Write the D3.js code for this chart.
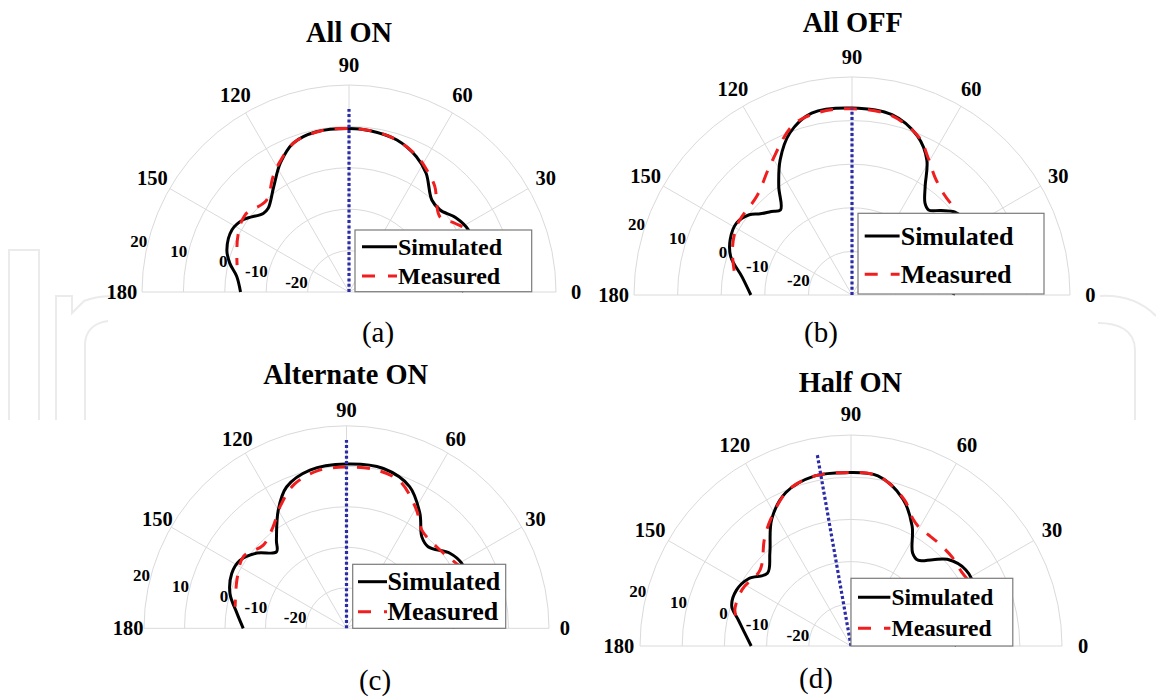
<!DOCTYPE html>
<html><head><meta charset="utf-8">
<script src="https://cdn.jsdelivr.net/npm/d3@7"></script>
<style>
body{margin:0;background:#fff} svg{display:block}
svg text{font-family:"Liberation Serif","Times New Roman",Tinos,"DejaVu Serif","Noto Serif",serif;}
</style>
</head><body><svg id="chart" width="1156" height="700"></svg>
<script>
// ---------------- data ----------------
const ringValues = [-20, -10, 0, 10, 20];
const angleTicks = [0, 30, 60, 90, 120, 150, 180];
const seriesNames = ["Simulated", "Measured"];
const titles = ["All ON", "All OFF", "Alternate ON", "Half ON"];
const tags = ["(a)", "(b)", "(c)", "(d)"];

const simAnglesA = [0, 8, 14, 20, 27.5, 35, 42, 48, 57, 63.5, 72.5, 82.5, 90, 101.5, 110.5, 118, 125.5, 134, 137.5, 145.5, 152, 161, 166.5, 172, 180];
const simA       = [-2.8, -1.3, 0.5, 1.8, 2.5, 1.4, -0.4, -0.1, 4.2, 6.5, 8.5, 9.3, 9.5, 9.5, 8.4, 5.3, 1.3, -1.9, -1.9, 0.9, 2.0, 1.2, -0.4, -2.6, -3.8];
const measAnglesA = [20, 27, 33, 39.5, 51, 57, 63, 72, 80, 90, 100, 110, 118, 123.5, 132, 143.5, 153, 162.5, 166.5];
const measA       = [1.5, 2.3, 0.5, -1.5, 2.9, 4.8, 6.6, 8.4, 9.2, 9.5, 9.5, 8.5, 5.6, 3.3, -0.2, 1.25, 0.1, -1.6, -2.2];

const simAnglesB = [0, 10, 18, 25, 32, 39, 43.5, 48, 51.5, 56, 61, 67.5, 77.5, 90, 102.5, 111, 118, 124, 130, 134, 138.5, 142, 148, 155.5, 162.5, 170.5, 180];
const simB       = [-6.8, -4.4, -0.9, 0.7, 1.2, 0.25, -1.85, -3.75, -3.1, 0, 5.4, 9.35, 12.35, 12.9, 12.75, 9.8, 5.1, 0.05, -4.5, -3.35, -1.9, -0.1, 1.2, 0.7, -0.85, -4.4, -6.8];
const measAnglesB = [43, 48, 55, 61, 67, 78, 90, 100, 109, 121.5, 134, 144.5, 149.5, 159.5, 169.5];
const measB       = [0.9, 1.35, 3.1, 6.0, 9.3, 12.2, 12.7, 12.6, 11.3, 5.5, 1.45, 1.0, 0.8, -0.7, -2.6];

const simAnglesC = [0, 8, 15, 22, 29.5, 36, 45, 50.5, 57.5, 66, 77, 90, 103, 113, 120, 128.5, 132.5, 140, 147.5, 154.5, 163.5, 172, 180];
const simC       = [-3.8, -1.8, 0.5, 2.2, 2.65, 1.55, -1.5, -0.75, 3.7, 8.3, 10.5, 10.55, 10.1, 7.9, 3.7, -2.2, -4.4, -1.1, 1.2, 1.4, 0.0, -2.65, -4.5];
const measAnglesC = [27, 34, 42, 52.5, 59.5, 70, 80, 90, 100, 110, 118, 126, 135, 145, 156, 169];
const measC       = [2.3, 0.85, 0.0, 0.55, 4.0, 8.6, 9.8, 9.8, 9.6, 7.8, 4.5, 0.9, -0.95, 1.0, -0.4, -2.0];

const simAnglesD = [0, 5, 15, 25, 33.5, 42, 46.5, 52, 56.5, 63, 70.5, 81, 92, 102, 113, 122, 131, 139, 146.5, 154, 161.5, 167, 180];
const simD       = [-5.5, -4, 0, 2.3, 2.65, 0.7, -1.8, -4.2, -3.55, 1.9, 6.9, 10.8, 11.1, 11.2, 9.5, 5.45, -0.7, -3.75, -1.0, 0.2, -0.2, -2.6, -6.35];
const measAnglesD = [30, 34, 41, 48.5, 55, 59.5, 64, 70, 81, 92, 102, 112, 122, 129, 140, 152.5, 162.5, 166];
const measD       = [1.8, 1.55, 1.9, 2.0, 2.1, 2.3, 3.5, 6.9, 10.8, 11.1, 11.2, 9.8, 5.7, 2.6, -1.9, -0.95, -1.15, -2.0];

const beamAngles = [90, 90, 90, 100];
const beamLevels = [14.2, 12.8, 16.5, 16];

// ---------------- layout ----------------
const layout = [
  {cx:349, cy:292, R:207, lf:1.097, ringAng:166, titleXY:[349,41.7], tagXY:[378,342],
   leg:{x0:355,y0:230,x1:531.7,y1:291.7,lx0:362,lx1:397,tx:398,rows:[246.7,276],fs:24}},
  {cx:852, cy:295, R:218, lf:1.093, ringAng:161, titleXY:[852.8,31.7], tagXY:[821,342],
   leg:{x0:858,y0:213.3,x1:1044,y1:294,lx0:864.7,lx1:899.6,tx:900.7,rows:[236,274.3],fs:26}},
  {cx:346.5, cy:628.3, R:202.5, lf:1.078, ringAng:165, titleXY:[345.7,384], tagXY:[375,690],
   leg:{x0:352.7,y0:564.3,x1:505.7,y1:628.3,lx0:358,lx1:387,tx:387.5,rows:[581.7,611.7],fs:26}},
  {cx:851, cy:646, R:211, lf:1.10, ringAng:165, titleXY:[850.4,391.7], tagXY:[816,688],
   leg:{x0:851,y0:578.3,x1:1012.8,y1:646,lx0:858,lx1:890.4,tx:891.5,rows:[597.3,628.3],fs:23.5}}
];
const sims = [[simAnglesA, simA], [simAnglesB, simB], [simAnglesC, simC], [simAnglesD, simD]];
const meas = [[measAnglesA, measA], [measAnglesB, measB], [measAnglesC, measC], [measAnglesD, measD]];

const svg = d3.select("#chart");
svg.append("rect").attr("width",1156).attr("height",700).attr("fill","#fff");

// faint watermark outlines
const wm = svg.append("g").attr("fill","none").attr("stroke","#ebebeb").attr("stroke-width",2);
wm.append("path").attr("d","M9,420 V250 H39 V420");
wm.append("path").attr("d","M56,420 V296 H72 V313 L84,301 C96,296 112,295 128,298");
wm.append("path").attr("d","M85,420 V345 C85,331 94,323 108,321");
wm.append("path").attr("d","M1100,296 C1120,295 1140,300 1156,316");
wm.append("path").attr("d","M1098,323 C1118,323 1135,330 1135,350 V420");

const toRad = d => d * Math.PI / 180;

layout.forEach((L, i) => {
  const r = d3.scaleLinear().domain([-30, 20]).range([0, L.R]);
  const g = svg.append("g").attr("transform", `translate(${L.cx},${L.cy})`);

  ringValues.forEach(v => {
    const p = d3.path();
    p.arc(0, 0, r(v), Math.PI, 2 * Math.PI);
    g.append("path").attr("d", p.toString()).attr("fill","none")
      .attr("stroke","#dadada").attr("stroke-width",1);
  });
  angleTicks.forEach(a => {
    g.append("line").attr("x1",0).attr("y1",0)
      .attr("x2", r(20) * Math.cos(toRad(a))).attr("y2", -r(20) * Math.sin(toRad(a)))
      .attr("stroke","#dadada").attr("stroke-width",1);
  });

  const line = d3.lineRadial()
    .angle(d => toRad(90 - d[0]))
    .radius(d => r(d[1]))
    .curve(d3.curveCatmullRom.alpha(0.5));

  const simPts = sims[i][0].map((a, k) => [a, sims[i][1][k]]);
  const measPts = meas[i][0].map((a, k) => [a, meas[i][1][k]]);

  g.append("path").attr("d", line(simPts)).attr("fill","none")
    .attr("stroke","#000").attr("stroke-width",3);
  g.append("path").attr("d", line(measPts)).attr("fill","none")
    .attr("stroke","#f01e1e").attr("stroke-width",3).attr("stroke-dasharray","13,11");

  g.append("path").attr("d", line.curve(d3.curveLinear)([[beamAngles[i], -30], [beamAngles[i], beamLevels[i]]]))
    .attr("fill","none").attr("stroke","#2b2ba8").attr("stroke-width",3.2)
    .attr("stroke-dasharray","3,2.3");

  angleTicks.forEach(a => {
    const rr = L.R * L.lf;
    g.append("text").attr("x", rr * Math.cos(toRad(a))).attr("y", -rr * Math.sin(toRad(a)))
      .attr("text-anchor","middle").attr("dominant-baseline","central")
      .attr("font-weight","bold").attr("font-size",20.5)
      .text(a);
  });
  ringValues.forEach(v => {
    g.append("text")
      .attr("x", r(v) * Math.cos(toRad(L.ringAng)) - 1)
      .attr("y", -r(v) * Math.sin(toRad(L.ringAng)))
      .attr("text-anchor","end").attr("dominant-baseline","central")
      .attr("font-weight","bold").attr("font-size",17)
      .text(v);
  });

  svg.append("text").attr("x", L.titleXY[0]).attr("y", L.titleXY[1])
    .attr("text-anchor","middle").attr("font-weight","bold")
    .attr("font-size",28.4).text(titles[i]);
  svg.append("text").attr("x", L.tagXY[0]).attr("y", L.tagXY[1])
    .attr("text-anchor","middle").attr("font-size",29).text(tags[i]);

  const lg = L.leg;
  svg.append("rect").attr("x", lg.x0).attr("y", lg.y0)
    .attr("width", lg.x1 - lg.x0).attr("height", lg.y1 - lg.y0)
    .attr("fill","#fff").attr("stroke","#7a7a7a").attr("stroke-width",1.2);
  seriesNames.forEach((name, k) => {
    const y = lg.rows[k];
    svg.append("line").attr("x1", lg.lx0).attr("x2", lg.lx1).attr("y1", y).attr("y2", y)
      .attr("stroke", k === 0 ? "#000" : "#f01e1e").attr("stroke-width",3)
      .attr("stroke-dasharray", k === 0 ? null : "13,13");
    svg.append("text").attr("x", lg.tx).attr("y", y).attr("dominant-baseline","central")
      .attr("font-weight","bold").attr("font-size",lg.fs)
      .text(name);
  });
});
</script>
</body></html>
